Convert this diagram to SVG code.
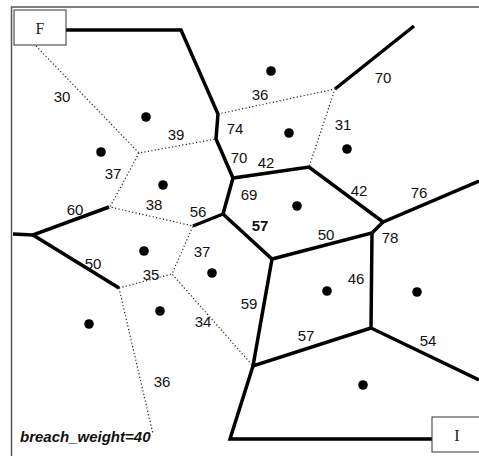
<svg xmlns="http://www.w3.org/2000/svg" width="479" height="456" viewBox="0 0 479 456">
<style>
.frame{fill:none;stroke:#555;stroke-width:1.5}
.box{fill:#fff;stroke:#333;stroke-width:1}
.thick{fill:none;stroke:#000;stroke-width:3.5;stroke-linejoin:miter;stroke-linecap:butt}
.dot{fill:none;stroke:#222;stroke-width:1.2;stroke-dasharray:1.2 2.3}
.site{fill:#000}
.lbl{font-family:"Liberation Sans",Arial,sans-serif;font-size:15px;fill:#111;text-anchor:middle;dominant-baseline:central}
.serif{font-family:"Liberation Serif","Times New Roman",serif;font-size:16px;fill:#222;text-anchor:middle;dominant-baseline:central}
</style>
<rect width="479" height="456" fill="#fff"/>
<rect class="frame" x="11.5" y="7" width="480" height="460"/>
<g id="connectors">
<polyline class="thick" points="64,30 181,30 218,114 216,139 233,178 309,167 383,222 479,181"/>
<polyline class="thick" points="383,222 372,233 272,259 223,214 233,178"/>
<polyline class="thick" points="223,214 193,226"/>
<polyline class="thick" points="372,233 371,328 479,380"/>
<polyline class="thick" points="371,328 253,366 272,259"/>
<polyline class="thick" points="253,366 230,439 433,439"/>
<polyline class="thick" points="335,89 414,26"/>
<polyline class="thick" points="13,234 33,235 109,207"/>
<polyline class="thick" points="33,235 119,288"/>
<polyline class="dot" points="36,46 139,153 216,139"/>
<polyline class="dot" points="218,114 335,89 309,167"/>
<polyline class="dot" points="139,153 110,207 193,226 172,274 253,366"/>
<polyline class="dot" points="119,288 172,274"/>
<polyline class="dot" points="119,288 153,434"/>
</g>
<g id="F"><rect class="box" x="14" y="10" width="52" height="35"/><text class="serif" x="40" y="28">F</text></g>
<g id="I"><rect class="box" x="432" y="417" width="60" height="35"/><text class="serif" x="457" y="435">I</text></g>
<g id="sites">
<circle class="site" cx="271" cy="71" r="4.8"/>
<circle class="site" cx="146" cy="117" r="4.8"/>
<circle class="site" cx="101" cy="152" r="4.8"/>
<circle class="site" cx="289" cy="133" r="4.8"/>
<circle class="site" cx="347" cy="149" r="4.8"/>
<circle class="site" cx="163" cy="185" r="4.8"/>
<circle class="site" cx="297" cy="206" r="4.8"/>
<circle class="site" cx="144" cy="251" r="4.8"/>
<circle class="site" cx="212" cy="273" r="4.8"/>
<circle class="site" cx="327" cy="291" r="4.8"/>
<circle class="site" cx="417" cy="292" r="4.8"/>
<circle class="site" cx="89" cy="324" r="4.8"/>
<circle class="site" cx="160" cy="311" r="4.8"/>
<circle class="site" cx="363" cy="385" r="4.8"/>
</g>
<g id="labels">
<text class="lbl" x="62" y="96">30</text>
<text class="lbl" x="176" y="134">39</text>
<text class="lbl" x="235" y="128">74</text>
<text class="lbl" x="260" y="94">36</text>
<text class="lbl" x="383" y="77">70</text>
<text class="lbl" x="343" y="124">31</text>
<text class="lbl" x="239" y="157">70</text>
<text class="lbl" x="266" y="162">42</text>
<text class="lbl" x="113" y="173">37</text>
<text class="lbl" x="75" y="209">60</text>
<text class="lbl" x="154" y="204">38</text>
<text class="lbl" x="198" y="211">56</text>
<text class="lbl" x="249" y="194">69</text>
<text class="lbl" x="260" y="225" font-weight="bold">57</text>
<text class="lbl" x="359" y="190">42</text>
<text class="lbl" x="419" y="192">76</text>
<text class="lbl" x="326" y="234">50</text>
<text class="lbl" x="390" y="237">78</text>
<text class="lbl" x="93" y="263">50</text>
<text class="lbl" x="151" y="274">35</text>
<text class="lbl" x="202" y="251">37</text>
<text class="lbl" x="356" y="278">46</text>
<text class="lbl" x="249" y="303">59</text>
<text class="lbl" x="203" y="321">34</text>
<text class="lbl" x="162" y="381">36</text>
<text class="lbl" x="306" y="335">57</text>
<text class="lbl" x="428" y="340">54</text>
<text x="20" y="442" font-family="'Liberation Sans',Arial,sans-serif" font-size="15" font-weight="bold" font-style="italic" fill="#111">breach_weight=40</text>
</g>
</svg>
